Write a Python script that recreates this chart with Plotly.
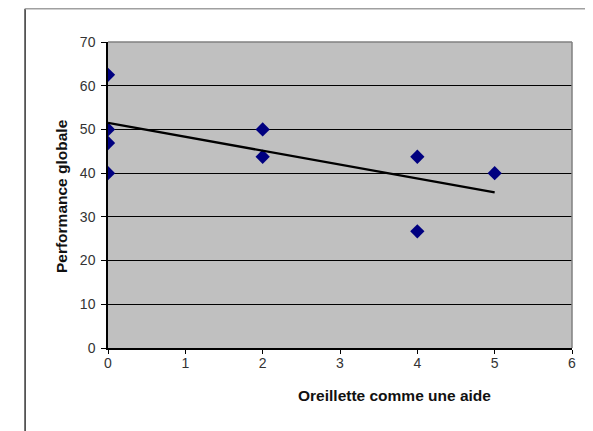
import plotly.graph_objects as go

# Data
x_values = [0, 0, 0, 0, 2, 2, 4, 4, 5]
y_values = [62.5, 50, 46.9, 40, 50, 43.75, 43.75, 26.7, 40]
trend_x = [0, 5]
trend_y = [51.5, 35.6]
x_tick_vals = [0, 1, 2, 3, 4, 5, 6]
y_tick_vals = [0, 10, 20, 30, 40, 50, 60, 70]
x_title = "Oreillette comme une aide"
y_title = "Performance globale"

# The page has an 8px body margin, so the figure is drawn 8px smaller and
# every target position (measured in window pixels) is shifted by OFF.
OFF = 8
W, H = 593 - OFF, 431 - OFF
plot_left, plot_right, plot_top, plot_bottom = 108 - OFF, 572.5 - OFF, 42 - OFF, 348 - OFF
L, R, T, B = plot_left, W - plot_right, plot_top, H - plot_bottom
pw = W - L - R
ph = H - T - B


def px_to_paper_x(px):
    return (px - OFF - L) / pw


def px_to_paper_y(py):
    return (plot_bottom - (py - OFF)) / ph


fig = go.Figure()
fig.add_trace(go.Scatter(
    x=x_values, y=y_values, mode="markers",
    marker=dict(symbol="diamond", size=11, color="#000080", line=dict(width=0)),
    showlegend=False, hoverinfo="x+y",
))
fig.add_trace(go.Scatter(
    x=trend_x, y=trend_y, mode="lines",
    line=dict(color="#000000", width=2.4),
    showlegend=False, hoverinfo="skip",
))

tick_font = dict(family="Liberation Sans, Arial, sans-serif", size=14, color="#333333")
title_font = dict(family="Liberation Sans, Arial, sans-serif", size=15.5, color="#111111")

fig.update_layout(
    width=W, height=H,
    margin=dict(l=L, r=R, t=T, b=B, pad=0),
    paper_bgcolor="#FFFFFF",
    plot_bgcolor="#C0C0C0",
    xaxis=dict(
        range=[0, 6], tickvals=x_tick_vals, ticktext=[str(v) for v in x_tick_vals],
        showgrid=False, zeroline=False,
        showline=True, linecolor="#000000", linewidth=1.5,
        ticks="outside", ticklen=4, tickcolor="#000000", tickwidth=1.2,
        ticklabelstandoff=-3,
        tickfont=tick_font, fixedrange=True,
    ),
    yaxis=dict(
        range=[0, 70], tickvals=y_tick_vals, ticktext=[str(v) for v in y_tick_vals],
        showgrid=True, gridcolor="#000000", gridwidth=1.2,
        zeroline=False,
        showline=True, linecolor="#000000", linewidth=1.5,
        ticks="outside", ticklen=5, tickcolor="#000000", tickwidth=1.2,
        ticklabelstandoff=3,
        tickfont=tick_font, fixedrange=True,
    ),
    shapes=[
        # plot area right and top border (gray)
        dict(type="line", xref="paper", yref="paper", x0=1, x1=1, y0=0, y1=1,
             line=dict(color="#808080", width=1.5)),
        dict(type="line", xref="paper", yref="paper", x0=0, x1=1, y0=1, y1=1,
             line=dict(color="#808080", width=1.5)),
        # outer chart frame
        dict(type="line", xref="paper", yref="paper",
             x0=px_to_paper_x(25), x1=px_to_paper_x(25),
             y0=px_to_paper_y(OFF + 0.8), y1=px_to_paper_y(445),
             line=dict(color="#333333", width=1.5)),
        dict(type="line", xref="paper", yref="paper",
             x0=px_to_paper_x(25), x1=px_to_paper_x(610),
             y0=px_to_paper_y(OFF + 0.8), y1=px_to_paper_y(OFF + 0.8),
             line=dict(color="#A0A0A0", width=1.5)),
    ],
    annotations=[
        dict(text="<b>" + x_title + "</b>", xref="paper", yref="paper",
             x=px_to_paper_x(394.5), y=px_to_paper_y(396),
             xanchor="center", yanchor="middle", showarrow=False, font=title_font),
        dict(text="<b>" + y_title + "</b>", xref="paper", yref="paper",
             x=px_to_paper_x(61), y=px_to_paper_y(196),
             xanchor="center", yanchor="middle", showarrow=False, textangle=-90,
             font=title_font),
    ],
)

fig.write_html("out.html", config={"displayModeBar": False})
